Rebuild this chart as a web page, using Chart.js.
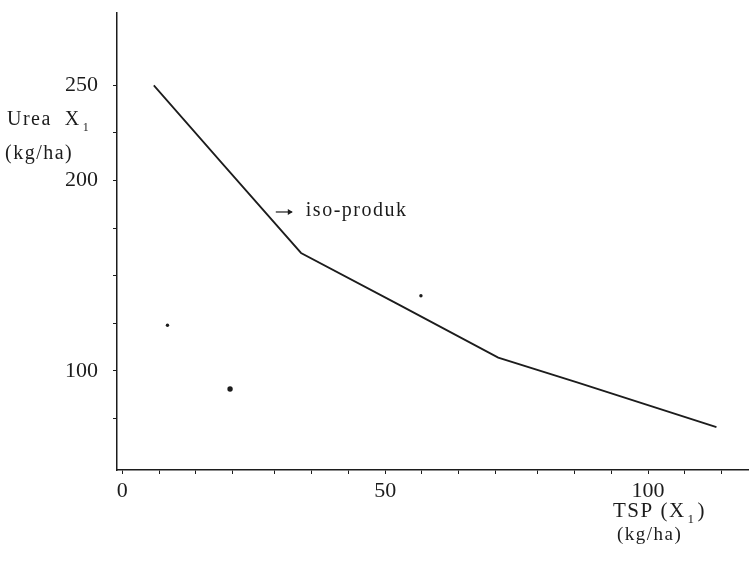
<!DOCTYPE html>
<html>
<head>
<meta charset="utf-8">
<script src="https://cdn.jsdelivr.net/npm/chart.js@4.4.1/dist/chart.umd.min.js"></script>
<style>
  html, body { margin: 0; padding: 0; background: #fff; }
  #wrap { width: 752px; height: 561px; }
</style>
</head>
<body>
<div id="wrap"><canvas id="chart" width="752" height="561"></canvas></div>
<script>
// iso-produk curve (TSP x1, Urea x2 in kg/ha)
const tspValues = [6, 19, 34, 52.5, 71.5, 86.5, 113];
const ureaValues = [250, 209, 162, 135, 107, 94, 70.5];

// loose points scattered under the curve
const dotTsp = [8.6, 20.5, 56.8];
const dotUrea = [124, 90.5, 139.5];

// tick marks and which of them carry a label
const xTickValues = [0, 7, 14, 21, 29, 36, 43, 50, 57, 64, 71, 79, 86, 93, 100, 107, 114];
const xTickLabels = [0, 50, 100];
const yTickValues = [75, 100, 125, 150, 175, 200, 225, 250];
const yTickLabels = [100, 200, 250];

// where the "-> iso-produk" note points from
const noteTsp = 29.2;
const noteUrea = 183.5;
const noteText = 'iso-produk';

const ink = '#1c1c1c';
const serif = '"Liberation Serif", "DejaVu Serif", serif';

function drawSub(ctx, main, sub, tail, x, y, size) {
    ctx.font = size + 'px ' + serif;
    ctx.fillText(main, x, y);
    let cx = x + ctx.measureText(main).width + 2;
    ctx.font = Math.round(size * 0.62) + 'px ' + serif;
    ctx.fillText(sub, cx, y + 6);
    cx += ctx.measureText(sub).width + 2;
    if (tail) {
        ctx.font = size + 'px ' + serif;
        ctx.fillText(tail, cx, y);
    }
}

const paperText = {
    id: 'paperText',
    afterDraw(chart) {
        const { ctx, chartArea, scales } = chart;
        ctx.save();
        ctx.fillStyle = ink;
        ctx.strokeStyle = ink;
        ctx.textBaseline = 'alphabetic';
        ctx.textAlign = 'left';
        ctx.letterSpacing = '1.5px';

        // y axis title, left of the axis
        const lx = chartArea.left - 110;
        drawSub(ctx, 'Urea  X', '1', '', lx, 125, 20);
        ctx.font = '20px ' + serif;
        ctx.fillText('(kg/ha)', lx - 2, 159);

        // x axis title, under the 100 label
        drawSub(ctx, 'TSP (X', '1', ')', 613, 517, 21);
        ctx.font = '19px ' + serif;
        ctx.fillText('(kg/ha)', 617, 540);

        // arrow note next to the curve
        const px = scales.x.getPixelForValue(noteTsp);
        const py = scales.y.getPixelForValue(noteUrea);
        ctx.lineWidth = 1.2;
        ctx.beginPath();
        ctx.moveTo(px, py);
        ctx.lineTo(px + 16, py);
        ctx.stroke();
        ctx.beginPath();
        ctx.moveTo(px + 17, py);
        ctx.lineTo(px + 12, py - 3);
        ctx.lineTo(px + 12, py + 3);
        ctx.closePath();
        ctx.fill();
        ctx.font = '20px ' + serif;
        ctx.textBaseline = 'middle';
        ctx.fillText(noteText, px + 30, py - 1);
        ctx.restore();
    }
};

const tickFont = { family: serif, size: 22 };

new Chart(document.getElementById('chart'), {
    type: 'line',
    data: {
        datasets: [
            {
                data: tspValues.map((v, i) => ({ x: v, y: ureaValues[i] })),
                borderColor: ink,
                borderWidth: 1.8,
                pointRadius: 0,
                tension: 0,
                fill: false
            },
            {
                data: dotTsp.map((v, i) => ({ x: v, y: dotUrea[i] })),
                showLine: false,
                pointRadius: [1.7, 2.7, 1.7],
                pointBackgroundColor: ink,
                pointBorderWidth: 0
            }
        ]
    },
    options: {
        responsive: false,
        animation: false,
        devicePixelRatio: 1,
        layout: { padding: { top: 13, right: 0, left: 0, bottom: 0 } },
        plugins: {
            legend: { display: false },
            tooltip: { enabled: false }
        },
        scales: {
            x: {
                type: 'linear',
                min: -1,
                max: 119,
                afterBuildTicks: s => { s.ticks = xTickValues.map(v => ({ value: v })); },
                afterFit: s => {
                    s.height = 91;
                    s.paddingLeft = 0;
                    s.paddingRight = 0;
                },
                border: { color: ink, width: 1.5 },
                grid: { drawOnChartArea: false, color: ink, tickLength: 4, lineWidth: 1 },
                ticks: {
                    autoSkip: false,
                    maxRotation: 0,
                    padding: 4,
                    color: ink,
                    font: tickFont,
                    callback: v => xTickLabels.includes(v) ? String(v) : ''
                }
            },
            y: {
                type: 'linear',
                min: 48,
                max: 288,
                afterBuildTicks: s => { s.ticks = yTickValues.map(v => ({ value: v })); },
                afterFit: s => {
                    s.width = 117;
                    s.paddingTop = 0;
                    s.paddingBottom = 0;
                },
                border: { color: ink, width: 1.5 },
                grid: { drawOnChartArea: false, color: ink, tickLength: 4, lineWidth: 1 },
                ticks: {
                    autoSkip: false,
                    padding: 15,
                    color: ink,
                    font: tickFont,
                    callback: v => yTickLabels.includes(v) ? String(v) : ''
                }
            }
        }
    },
    plugins: [paperText]
});
</script>
</body>
</html>
